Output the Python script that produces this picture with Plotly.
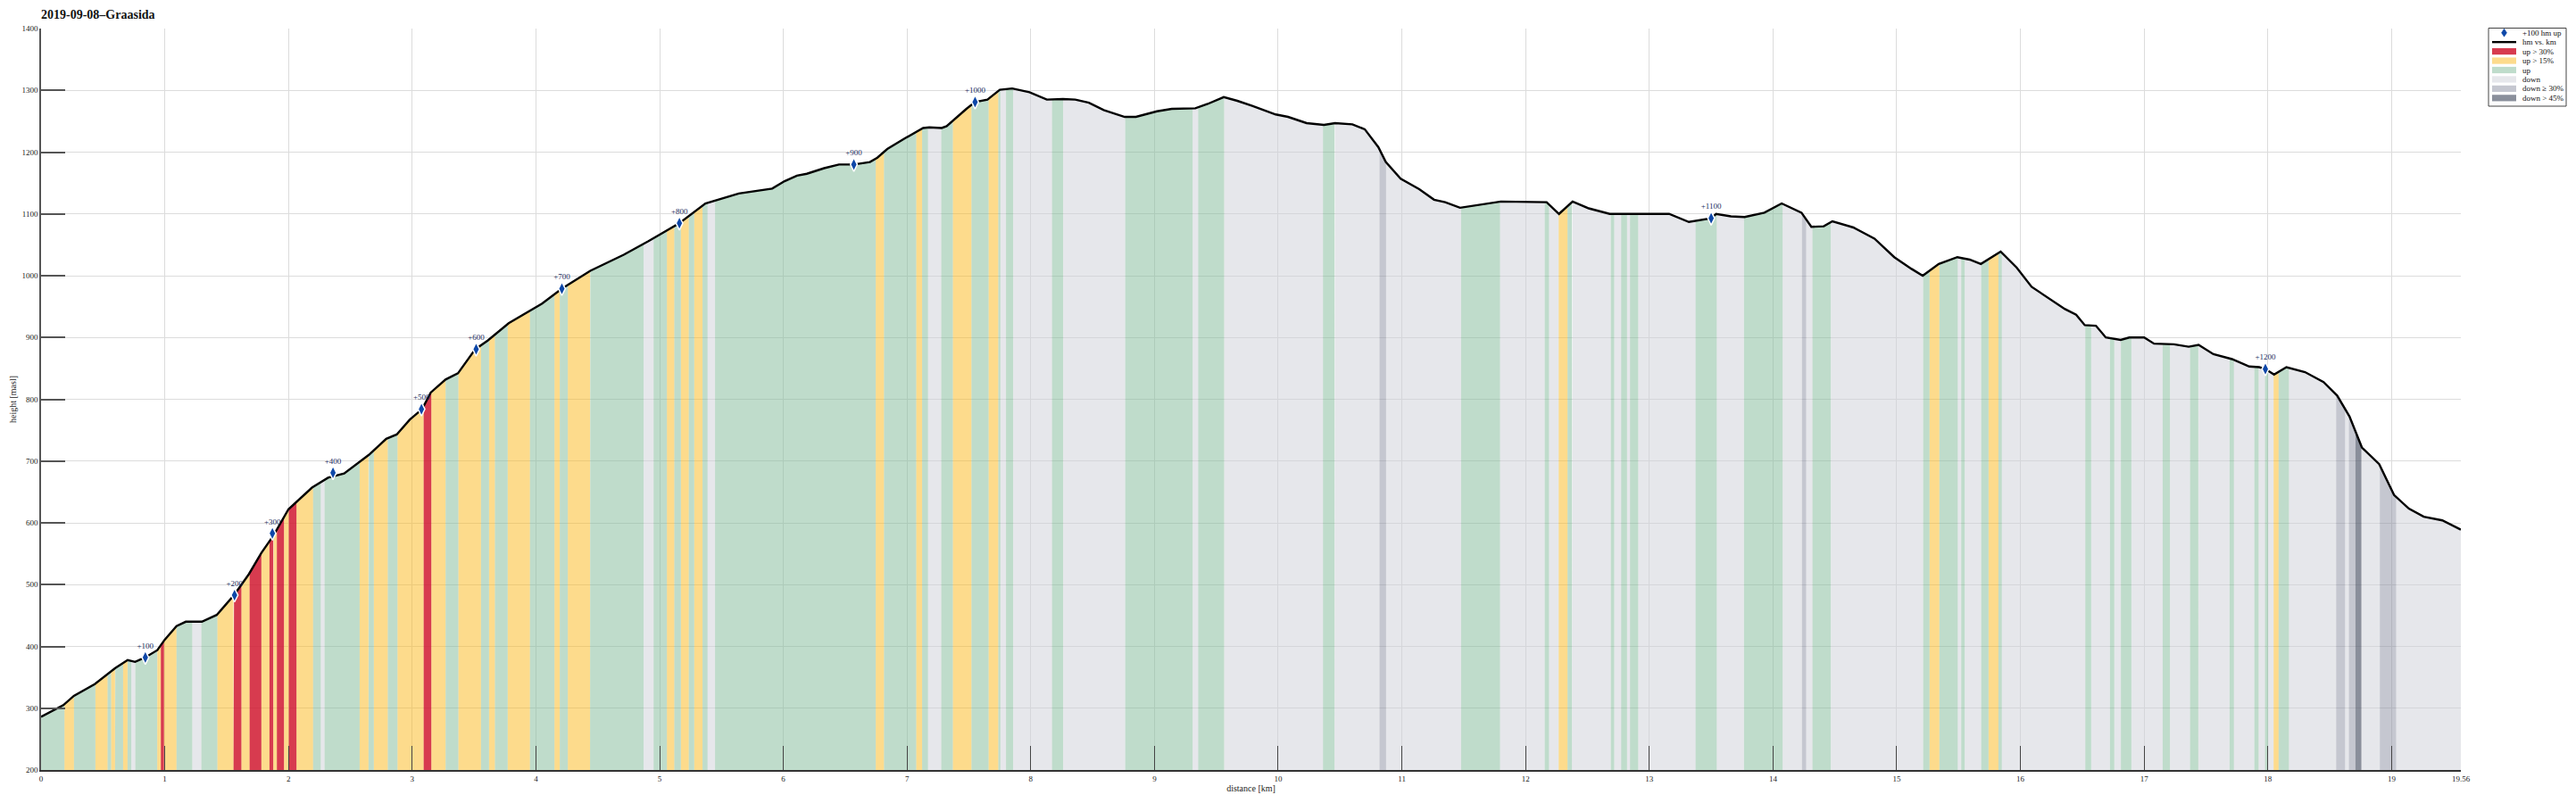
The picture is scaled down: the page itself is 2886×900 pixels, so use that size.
import numpy as np
import plotly.graph_objects as go

# ---------------- data ----------------
prof_km = [0.00, 0.07, 0.18, 0.265, 0.434, 0.60, 0.70, 0.76, 0.84, 0.94, 1.00, 1.095, 1.17, 1.30, 1.42,
           1.49, 1.56, 1.68, 1.78, 1.88, 2.00, 2.19, 2.32, 2.45, 2.55, 2.65, 2.79, 2.875, 2.98, 3.08,
           3.15, 3.27, 3.37, 3.51, 3.61, 3.78, 4.05, 4.21, 4.44, 4.71, 4.91, 5.16, 5.37, 5.64, 5.91,
           6.01, 6.11, 6.19, 6.33, 6.45, 6.57, 6.70, 6.76, 6.84, 6.98, 7.07, 7.13, 7.18, 7.28, 7.32,
           7.41, 7.48, 7.55, 7.65, 7.75, 7.85, 7.99, 8.13, 8.26, 8.36, 8.47, 8.59, 8.76, 8.85, 9.02,
           9.14, 9.33, 9.43, 9.56, 9.67, 9.79, 9.98, 10.08, 10.23, 10.37, 10.46, 10.60, 10.70, 10.81,
           10.87, 10.99, 11.14, 11.26, 11.35, 11.47, 11.69, 11.80, 12.17, 12.27, 12.38, 12.51, 12.68,
           13.01, 13.16, 13.32, 13.50, 13.54, 13.66, 13.77, 13.93, 14.07, 14.23, 14.31, 14.41, 14.48,
           14.65, 14.82, 14.98, 15.12, 15.21, 15.34, 15.49, 15.59, 15.68, 15.84, 15.97, 16.09, 16.24,
           16.36, 16.45, 16.52, 16.61, 16.69, 16.81, 16.88, 17.00, 17.08, 17.24, 17.36, 17.44, 17.56,
           17.71, 17.85, 17.93, 17.98, 18.05, 18.15, 18.30, 18.45, 18.56, 18.66, 18.76, 18.90, 19.02,
           19.14, 19.26, 19.41, 19.56]
prof_elev = [286, 293, 305, 320, 339, 365, 378, 375, 382, 394, 411, 433, 440, 440, 451,
             467, 483, 517, 551, 580, 622, 657, 673, 680, 695, 710, 736, 743, 767, 784,
             811, 832, 842, 881, 895, 923, 955, 979, 1008, 1034, 1056, 1085, 1117, 1133, 1141,
             1153, 1162, 1165, 1174, 1180, 1180, 1184, 1191, 1205, 1222, 1232, 1239, 1240, 1239, 1242,
             1258, 1270, 1281, 1285, 1301, 1303, 1297, 1285, 1286, 1285, 1280, 1268, 1257, 1257, 1266,
             1270, 1271, 1278, 1289, 1283, 1275, 1261, 1257, 1247, 1244, 1247, 1245, 1237, 1208,
             1184, 1157, 1140, 1123, 1119, 1110, 1117, 1120, 1119, 1100, 1120, 1109, 1100,
             1100, 1100, 1087, 1093, 1100, 1096, 1095, 1102, 1117, 1102, 1079, 1080, 1088,
             1078, 1060, 1030, 1011, 1000, 1019, 1030, 1026, 1019, 1039, 1013, 982, 962,
             946, 937, 920, 919, 900, 896, 900, 900, 890, 889, 885, 888, 873,
             865, 853, 852, 849, 840, 852, 844, 828, 806, 772, 722, 695, 645,
             623, 610, 604, 589]

band_start = [0.000, 0.189, 0.266, 0.439, 0.538, 0.566, 0.598, 0.663, 0.699, 0.730, 0.761, 0.939, 0.968,
              0.994, 1.095, 1.223, 1.295, 1.425, 1.555, 1.620, 1.685, 1.781, 1.846, 1.877, 1.906, 1.964,
              2.002, 2.065, 2.199, 2.262, 2.291, 2.575, 2.647, 2.690, 2.803, 2.881, 3.092, 3.155, 3.270,
              3.373, 3.556, 3.621, 3.669, 3.772, 3.952, 4.150, 4.193, 4.258, 4.438, 4.871, 4.951, 5.059,
              5.119, 5.172, 5.236, 5.280, 5.347, 5.388, 5.448, 6.747, 6.814, 7.074, 7.122, 7.170, 7.276,
              7.370, 7.521, 7.659, 7.738, 7.755, 7.800, 7.858, 8.171, 8.262, 8.763, 9.309, 9.353, 9.564,
              10.362, 10.456, 10.819, 10.872, 11.478, 11.794, 12.154, 12.190, 12.267, 12.339, 12.375,
              12.688, 12.717, 12.772, 12.820, 12.844, 12.911, 13.373, 13.546, 13.765, 14.078, 14.234,
              14.268, 14.318, 14.467, 15.213, 15.265, 15.345, 15.494, 15.521, 15.550, 15.682, 15.742,
              15.822, 15.850, 16.524, 16.572, 16.723, 16.759, 16.812, 16.897, 17.149, 17.209, 17.370,
              17.438, 17.690, 17.726, 17.890, 17.926, 17.976, 18.003, 18.046, 18.087, 18.171, 18.552,
              18.624, 18.655, 18.708, 18.756, 18.905, 19.037]
band_cat = ["up", "up15", "up", "up15", "up", "up15", "up", "up15", "up", "down", "up", "up15", "up30",
            "up15", "up", "down", "up", "up15", "up30", "up15", "up30", "up15", "up30", "up15", "up30", "up15",
            "up30", "up15", "up", "down", "up", "up15", "up", "up15", "up", "up15", "up30", "up15", "up",
            "up15", "up", "up15", "up", "up15", "up", "up15", "up", "up15", "up", "down", "up", "up15",
            "up", "up15", "up", "up15", "up", "down", "up", "up15", "up", "up15", "up", "down", "up",
            "up15", "up", "up15", "up", "down", "up", "down", "up", "down", "up", "down", "up", "down",
            "up", "down", "down30", "down", "up", "down", "up", "down", "up15", "up", "down",
            "up", "down", "up", "down", "up", "down", "up", "down", "up", "down", "down30",
            "down", "up", "down", "up", "up15", "up", "down", "up", "down", "up", "up15",
            "up", "down", "up", "down", "up", "down", "up", "down", "up", "down", "up",
            "down", "up", "down", "up", "down", "up", "down", "up15", "up", "down", "down30",
            "down", "down30", "down45", "down", "down30", "down"]
route_end_km = 19.56

gain_km = [0.843, 1.564, 1.87, 2.36, 3.075, 3.517, 4.21, 5.16, 6.57, 7.55, 13.50, 17.98]
gain_elev = [382, 483, 583, 681, 784, 881, 979, 1085, 1180, 1281, 1093, 849]
gain_labels = ["+100", "+200", "+300", "+400", "+500", "+600", "+700", "+800", "+900", "+1000", "+1100", "+1200"]

categories = ["up30", "up15", "up", "down", "down30", "down45"]
category_names = ["up > 30%", "up > 15%", "up", "down", "down \u2265 30%", "down > 45%"]
marker_name = "+100 hm up"
line_name = "hm vs. km"

x_tickvals = list(range(0, 20)) + [19.56]
x_ticktext = [str(v) for v in range(0, 20)] + ["19.56"]

# ---------------- styling ----------------
fill_colors = {
    "up30": "rgba(208,27,50,0.86)",
    "up15": "rgba(251,183,25,0.5)",
    "up": "rgba(127,185,151,0.5)",
    "down": "rgba(205,207,215,0.5)",
    "down30": "rgba(139,143,161,0.5)",
    "down45": "rgba(89,96,113,0.7)",
}
FONT = "Liberation Serif, DejaVu Serif, serif"
BASE = 200
W, H = 2886, 900
PAGE_OFF = 8  # default page margin around the figure div
# plot area in page pixels: x 46..2757, y 32..863
ML, MT = 46 - PAGE_OFF, 32 - PAGE_OFF
PW, PH = 2757 - 46, 863 - 32
MR, MB = W - ML - PW, H - MT - PH

edges = band_start + [route_end_km]
pk = np.array(prof_km)
pe = np.array(prof_elev)

fig = go.Figure()
for cat, name in zip(categories, category_names):
    xs, ys = [], []
    for a, b, c in zip(edges[:-1], edges[1:], band_cat):
        if c != cat:
            continue
        inner = [k for k in prof_km if a < k < b]
        px = [a] + inner + [b]
        py = np.interp(px, pk, pe).tolist()
        xs += [a] + px + [b, a, None]
        ys += [BASE] + py + [BASE, BASE, None]
    fig.add_trace(go.Scatter(
        x=xs, y=ys, mode="lines", fill="toself", fillcolor=fill_colors[cat],
        line=dict(width=0, color=fill_colors[cat]), name=name, showlegend=False,
        hoverinfo="skip"))

fig.add_trace(go.Scatter(x=prof_km, y=prof_elev, mode="lines", name=line_name,
                         line=dict(color="black", width=2.4), showlegend=False))
fig.add_trace(go.Scatter(x=gain_km, y=gain_elev, mode="markers+text", name=marker_name,
                         text=gain_labels, textposition="top center",
                         textfont=dict(family=FONT, size=9, color="#1b2b5e"),
                         marker=dict(symbol="diamond-tall", size=11, color="#0d47a8",
                                     line=dict(color="white", width=1.5)),
                         showlegend=False))


# ---------------- hand-made compact legend (page pixels -> paper coords) ----------------
def px2x(px):
    return (px - PAGE_OFF - ML) / PW


def py2y(py):
    return (MT + PH - (py - PAGE_OFF)) / PH


shapes = []
annotations = []
box_l, box_r, box_t, box_b = 2788, 2875, 31.5, 119
shapes.append(dict(type="rect", xref="paper", yref="paper", x0=px2x(box_l), x1=px2x(box_r),
                   y0=py2y(box_b), y1=py2y(box_t), line=dict(color="#444", width=1),
                   fillcolor="white", layer="above"))
row_y = [36.7 + 10.45 * i for i in range(8)]
sw_l, sw_r, txt_x = 2792, 2819, 2824
labels = [marker_name, line_name] + category_names
cx, cy = (sw_l + sw_r) / 2, row_y[0]
shapes.append(dict(type="path", xref="paper", yref="paper", layer="above",
                   path=f"M {px2x(cx)} {py2y(cy - 4.5)} L {px2x(cx + 3)} {py2y(cy)} "
                        f"L {px2x(cx)} {py2y(cy + 4.5)} L {px2x(cx - 3)} {py2y(cy)} Z",
                   fillcolor="#0d47a8", line=dict(color="#0d47a8", width=0.5)))
shapes.append(dict(type="line", xref="paper", yref="paper", layer="above",
                   x0=px2x(sw_l), x1=px2x(sw_r), y0=py2y(row_y[1]), y1=py2y(row_y[1]),
                   line=dict(color="black", width=2.4)))
for i, cat in enumerate(categories):
    yc = row_y[2 + i]
    shapes.append(dict(type="rect", xref="paper", yref="paper", layer="above",
                       x0=px2x(sw_l), x1=px2x(sw_r), y0=py2y(yc + 3.6), y1=py2y(yc - 3.6),
                       fillcolor=fill_colors[cat], line=dict(width=0)))
for lab, yc in zip(labels, row_y):
    annotations.append(dict(text=lab, xref="paper", yref="paper", x=px2x(txt_x), y=py2y(yc),
                            xanchor="left", yanchor="middle", showarrow=False,
                            font=dict(family=FONT, size=9, color="#111")))

fig.update_layout(
    width=W, height=H,
    paper_bgcolor="white", plot_bgcolor="white",
    margin=dict(l=ML, r=MR, t=MT, b=MB, autoexpand=False),
    font=dict(family=FONT, size=9, color="#222"),
    title=dict(text="<b>2019-09-08\u2013Graasida</b>", x=(46 - PAGE_OFF) / W, xanchor="left",
               y=1 - (16 - PAGE_OFF) / H, yanchor="middle", pad=dict(l=0, r=0, t=0, b=0),
               font=dict(family=FONT, size=14, color="#111")),
    showlegend=False,
    shapes=shapes,
    annotations=annotations,
)
fig.update_xaxes(range=[0, route_end_km], tickvals=x_tickvals, ticktext=x_ticktext,
                 ticks="inside", ticklen=27, tickcolor="#444", tickwidth=1,
                 showline=True, linecolor="#333", linewidth=2, mirror=False, automargin=False,
                 showgrid=True, gridcolor="#dcdcdc", gridwidth=1, zeroline=False,
                 title=dict(text="distance [km]", font=dict(family=FONT, size=10), standoff=2),
                 tickfont=dict(family=FONT, size=9))
fig.update_yaxes(range=[BASE, 1400], dtick=100, tick0=200,
                 ticks="inside", ticklen=27, tickcolor="#555", tickwidth=1.5,
                 showline=True, linecolor="#555", linewidth=1.5, mirror=False, automargin=False,
                 showgrid=True, gridcolor="#dcdcdc", gridwidth=1, zeroline=False,
                 title=dict(text="height [masl]", font=dict(family=FONT, size=10), standoff=4),
                 tickfont=dict(family=FONT, size=9))

fig.write_html("out.html")
